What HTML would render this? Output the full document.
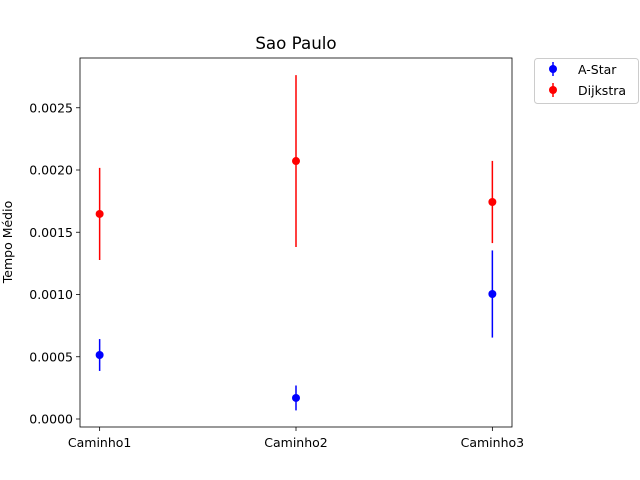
<!DOCTYPE html>
<html><head><meta charset="utf-8"><style>
body{margin:0;background:#fff;}
svg{display:block;font-family:"DejaVu Sans","Liberation Sans",sans-serif;}
</style></head><body>
<svg id="chart" width="640" height="480"></svg>
<script>
const categories=["Caminho1","Caminho2","Caminho3"];
const astarMeans=[0.000514,0.000169,0.001004];
const astarErr=[0.000128,0.0001,0.00035];
const dijkstraMeans=[0.001647,0.002072,0.001743];
const dijkstraErr=[0.00037,0.00069,0.00033];
const yTicks=[0,0.0005,0.001,0.0015,0.002,0.0025];
const yTickLabels=["0.0000","0.0005","0.0010","0.0015","0.0020","0.0025"];

const NS="http://www.w3.org/2000/svg";
const svg=document.getElementById('chart');
const L=80,R=512,T=58,B=427;
function xs(i){return L+(i+0.1)/2.2*(R-L);}
function ys(v){return 419-v*124500;}
function mk(tag,attrs,parent){const e=document.createElementNS(NS,tag);for(const k in attrs)e.setAttribute(k,attrs[k]);(parent||svg).appendChild(e);return e;}

const title=mk('text',{x:296,y:49,'text-anchor':'middle','font-size':16.7,fill:'#000'});
title.textContent='Sao Paulo';



const ylab=mk('text',{x:0,y:0,'text-anchor':'middle','font-size':12.5,transform:'translate(12,242) rotate(-90)'});
ylab.textContent='Tempo Médio';



yTicks.forEach((v,i)=>{
  const y=ys(v);
  mk('line',{x1:L-4,x2:L,y1:y,y2:y,stroke:'#000','stroke-width':0.8});
  const t=mk('text',{x:L-7,y:y+4.5,'text-anchor':'end','font-size':12.5});
  t.textContent=yTickLabels[i];
  
  
});
categories.forEach((c,i)=>{
  const x=xs(i);
  mk('line',{x1:x,x2:x,y1:B,y2:B+4,stroke:'#000','stroke-width':0.8});
  const t=mk('text',{x:x,y:B+20,'text-anchor':'middle','font-size':12.5});
  t.textContent=c;
  
  
});

function series(means,errs,color,name){
  const g=mk('g',{});
  
  
  means.forEach((m,i)=>{
    const x=xs(i);
    const l=mk('line',{x1:x,x2:x,y1:ys(m-errs[i]),y2:ys(m+errs[i]),stroke:color,'stroke-width':1.5},g);
    
    
    const c=mk('circle',{cx:x,cy:ys(m),r:4,fill:color},g);
    
    
  });
}
series(astarMeans,astarErr,'#0000ff','astar');
series(dijkstraMeans,dijkstraErr,'#ff0000','dijkstra');

const frame=mk('rect',{x:L,y:T,width:R-L,height:B-T,fill:'none',stroke:'#000','stroke-width':0.8});



const lg=mk('g',{});


mk('rect',{x:534.5,y:58.5,width:104,height:45,rx:3,fill:'#fff',stroke:'#ccc'},lg);
[['A-Star','#0000ff',69],['Dijkstra','#ff0000',90]].forEach(([n,c,y])=>{
  const e=mk('g',{},lg);
  
  
  mk('line',{x1:553,x2:553,y1:y-7,y2:y+7,stroke:c,'stroke-width':1.5},e);
  mk('circle',{cx:553,cy:y,r:4,fill:c},e);
  const t=mk('text',{x:578,y:y+5,'font-size':12.5},e);
  t.textContent=n;
});
</script>
</body></html>
